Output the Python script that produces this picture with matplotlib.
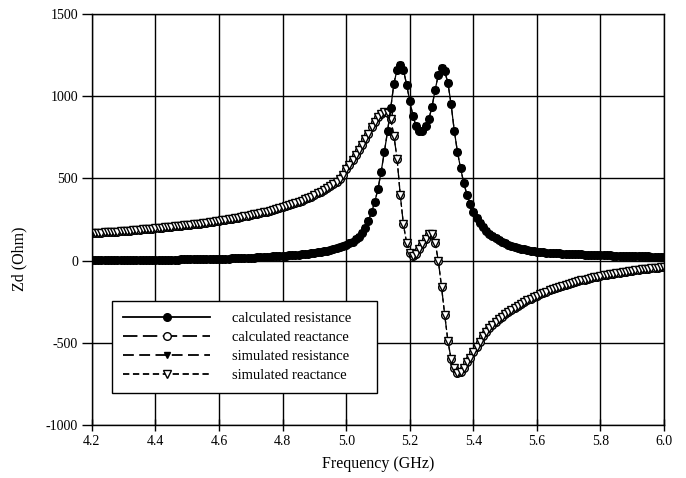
import matplotlib.pyplot as plt
import numpy as np

plt.rcParams['font.family'] = ['Liberation Serif', 'DejaVu Serif']
plt.rcParams['font.size'] = 10
plt.rcParams['axes.unicode_minus'] = False

# sweep 4.2 - 6.0 GHz, 10 MHz step
freq = np.linspace(4.2, 6.0, 181)

calc_resistance = [
    2, 2, 2, 2, 3, 3, 3, 3, 3, 3,
    3, 3, 4, 4, 4, 4, 4, 4, 4, 5,
    5, 5, 5, 5, 6, 6, 6, 6, 7, 7,
    7, 7, 8, 8, 8, 9, 9, 10, 10, 10,
    11, 11, 12, 12, 13, 14, 14, 15, 16, 17,
    17, 18, 19, 20, 21, 22, 23, 25, 26, 28,
    29, 30, 32, 33, 35, 36, 38, 40, 42, 44,
    46, 49, 52, 55, 59, 63, 68, 74, 80, 87,
    95, 104, 115, 128, 145, 168, 200, 242, 295, 358,
    435, 541, 660, 785, 925, 1075, 1160, 1190, 1160, 1070,
    970, 880, 815, 787, 785, 815, 860, 935, 1040, 1130,
    1168, 1150, 1080, 950, 790, 660, 560, 470, 400, 345,
    295, 258, 228, 203, 180, 163, 148, 135, 123, 113,
    104, 96, 89, 83, 77, 72, 67, 63, 60, 57,
    54, 52, 50, 48, 46, 45, 44, 43, 42, 41,
    40, 39, 38, 37, 37, 36, 35, 35, 34, 33,
    33, 32, 31, 31, 30, 30, 29, 29, 28, 28,
    27, 27, 26, 26, 25, 25, 24, 24, 23, 23,
    22,
]

calc_reactance = [
    166, 167, 168, 170, 171, 172, 173, 175, 176, 178,
    179, 181, 182, 184, 185, 187, 189, 190, 192, 194,
    196, 198, 199, 201, 203, 205, 207, 209, 211, 214,
    216, 218, 220, 223, 225, 228, 230, 233, 236, 238,
    241, 244, 247, 250, 254, 257, 261, 264, 268, 272,
    276, 280, 284, 289, 293, 298, 303, 308, 313, 319,
    324, 330, 336, 343, 350, 357, 364, 372, 380, 389,
    398, 408, 418, 429, 441, 453, 466, 480, 495, 520,
    555, 580, 610, 640, 672, 705, 738, 772, 810, 840,
    870, 893, 905, 900, 860, 760, 620, 400, 220, 107,
    46, 28, 40, 70, 100, 130, 160, 160, 107, -4,
    -162, -332, -489, -600, -655, -683, -680, -655, -620, -590,
    -558, -525, -493, -462, -436, -413, -393, -374, -357, -341,
    -326, -312, -299, -287, -275, -264, -253, -243, -233, -224,
    -215, -206, -198, -190, -182, -175, -168, -161, -155, -149,
    -143, -137, -131, -126, -121, -116, -111, -107, -102, -98,
    -94, -90, -86, -83, -79, -76, -73, -70, -67, -64,
    -61, -59, -56, -54, -51, -49, -47, -45, -43, -41,
    -39,
]

# simulated curves lie on top of the calculated ones
sim_resistance = list(calc_resistance)
sim_reactance = list(calc_reactance)

fig = plt.figure(figsize=(6.86, 4.78), dpi=100)
ax = fig.add_axes([0.134, 0.111, 0.834, 0.860])

ms = 5.5
ax.plot(freq, calc_resistance, color='black', lw=0.9, marker='o', ms=ms,
        mfc='black', mec='black', label='calculated resistance', zorder=4)
ax.plot(freq, calc_reactance, color='black', lw=0.9, dashes=(8, 3), marker='o',
        ms=ms, mfc='white', mec='black', label='calculated reactance', zorder=2)
ax.plot(freq, sim_resistance, color='black', lw=0.9, dashes=(6, 3), marker='v',
        ms=4.8, mfc='black', mec='black', label='simulated resistance', zorder=3)
ax.plot(freq, sim_reactance, color='black', lw=0.9, dashes=(3.5, 2), marker='v',
        ms=ms, mfc='white', mec='black', label='simulated reactance', zorder=2.5)

ax.set_xlim(4.2, 6.0)
ax.set_ylim(-1000, 1500)
ax.set_xticks(np.arange(4.2, 6.01, 0.2))
ax.set_xticklabels(['%.1f' % v for v in np.arange(4.2, 6.01, 0.2)])
ax.set_yticks(np.arange(-1000, 1501, 500))
ax.grid(True, color='black', lw=1)
ax.set_axisbelow(True)
for s in ax.spines.values():
    s.set_linewidth(1)
ax.tick_params(axis='x', direction='inout', length=8, width=1)
ax.tick_params(axis='y', direction='out', length=7, width=1, pad=3)

ax.set_xlabel('Frequency (GHz)', fontsize=11.5)
ax.set_ylabel('Zd (Ohm)', fontsize=11.5)
ax.xaxis.set_label_coords(0.5, -0.076)
ax.yaxis.set_label_coords(-0.112, 0.404)

leg = ax.legend(loc='lower left', bbox_to_anchor=(0.035, 0.078, 0.463, 0.226),
                mode='expand', handlelength=6.0, handletextpad=1.5,
                labelspacing=0.4, borderpad=0.75, borderaxespad=0,
                fancybox=False, framealpha=1, edgecolor='black',
                prop={'size': 10.5})
leg.get_frame().set_linewidth(1)
for line in leg.get_lines():
    line.set_linewidth(1.3)

fig.savefig('out.png', dpi=100)
